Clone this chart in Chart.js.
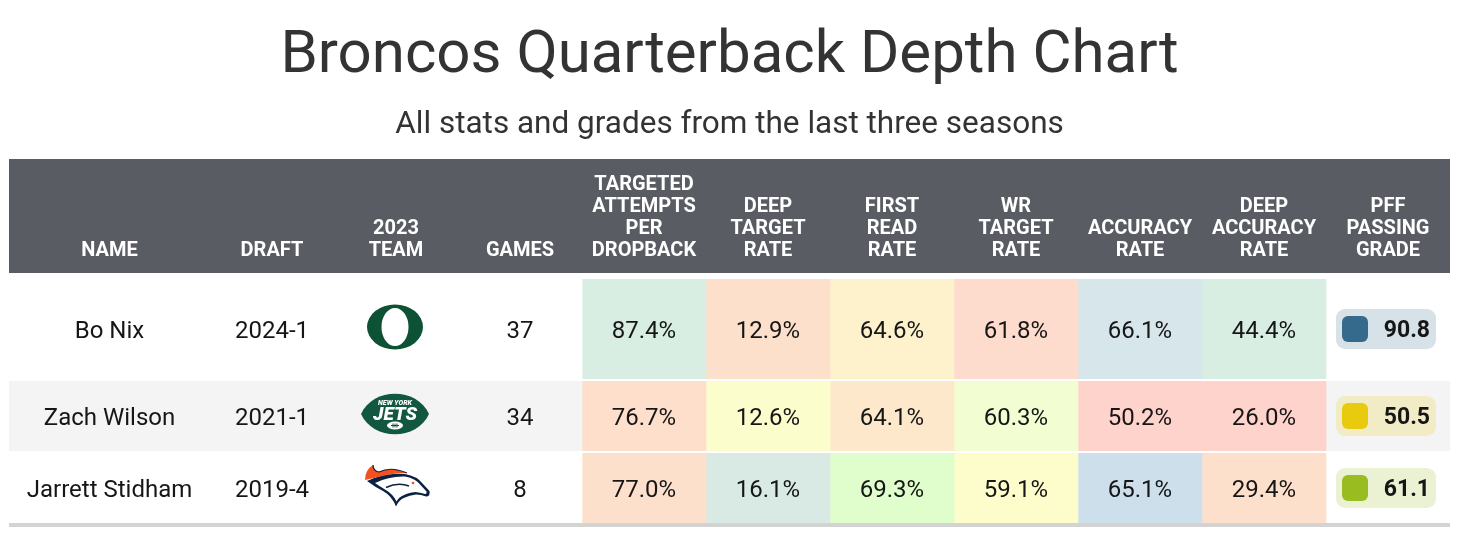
<!DOCTYPE html>
<html>
<head>
<meta charset="utf-8">
<script src="https://cdn.jsdelivr.net/npm/chart.js@4.4.1/dist/chart.umd.min.js"></script>
<style>
  html, body { margin: 0; padding: 0; background: #fff; }
  #page { width: 1460px; height: 534px; overflow: hidden; }
  .box { position: relative; width: 1460px; }
  #rule { margin-left: 9px; width: 1441px; height: 4px; background: #d3d3d3; }
</style>
</head>
<body>
<div id="page">
  <div class="box" style="height:273px"><canvas id="head"></canvas></div>
  <div class="box" style="height:106px"><canvas id="row0"></canvas></div>
  <div class="box" style="height:72px"><canvas id="row1"></canvas></div>
  <div class="box" style="height:72px"><canvas id="row2"></canvas></div>
  <div id="rule"></div>
</div>
<script>
// data
const players = ['Bo Nix', 'Zach Wilson', 'Jarrett Stidham'];
const draft = ['2024-1', '2021-1', '2019-4'];
const team2023 = ['Oregon', 'Jets', 'Broncos'];
const games = [37, 34, 8];
const targetedAttemptsPerDropback = [87.4, 76.7, 77.0];
const deepTargetRate = [12.9, 12.6, 16.1];
const firstReadRate = [64.6, 64.1, 69.3];
const wrTargetRate = [61.8, 60.3, 59.1];
const accuracyRate = [66.1, 50.2, 65.1];
const deepAccuracyRate = [44.4, 26.0, 29.4];
const passingGrade = [90.8, 50.5, 61.1];

const headerLabels = [
  ['NAME'], ['DRAFT'], ['2023', 'TEAM'], ['GAMES'],
  ['TARGETED', 'ATTEMPTS', 'PER', 'DROPBACK'],
  ['DEEP', 'TARGET', 'RATE'], ['FIRST', 'READ', 'RATE'], ['WR', 'TARGET', 'RATE'],
  ['ACCURACY', 'RATE'], ['DEEP', 'ACCURACY', 'RATE'], ['PFF', 'PASSING', 'GRADE'],
];
const statColumns = [targetedAttemptsPerDropback, deepTargetRate, firstReadRate,
  wrTargetRate, accuracyRate, deepAccuracyRate];

// layout and styles
const colWidths = [201, 124, 124, 124, 124, 124, 124, 124, 124, 124, 124];
const totalWidth = colWidths.reduce((a, b) => a + b, 0);
const headerBg = '#595c63';
const rowBg = ['#ffffff', '#f4f4f4', '#ffffff'];
const heatColors = [
  ['#d9eee3', '#fde0cb', '#fdf2cc', '#fddccd', '#d6e6ea', '#d9eee3'],
  ['#fddfcb', '#fcfdcc', '#fde8cb', '#f2fdd1', '#fdd3cc', '#fdd3cc'],
  ['#fde0cb', '#d8eae3', '#e0fdcc', '#fdfdcc', '#cddfeb', '#fde0cb'],
];
const gradeColors = ['#356a8d', '#e8cb0e', '#99bd21'];
const textColor = '#161616';

Chart.defaults.font.family = 'Roboto, "Noto Sans", sans-serif';

function baseOptions(padTop) {
  return {
    indexAxis: 'y',
    responsive: true,
    maintainAspectRatio: false,
    animation: false,
    events: [],
    layout: { padding: { left: 9, right: 10, top: padTop, bottom: 0 } },
    scales: {
      x: { stacked: true, display: false, min: 0, max: totalWidth },
      y: { stacked: true, display: false },
    },
    plugins: {
      legend: { display: false },
      tooltip: { enabled: false },
    },
  };
}

function columnDatasets(colorFor) {
  return colWidths.map((w, c) => ({
    label: headerLabels[c].join(' '),
    data: [w],
    backgroundColor: colorFor(c),
    borderWidth: 0,
    barPercentage: 1,
    categoryPercentage: 1,
  }));
}

function cellBox(chart, c) {
  const el = chart.getDatasetMeta(c).data[0];
  const p = el.getProps(['x', 'base', 'y', 'height'], true);
  return { left: Math.min(p.x, p.base), right: Math.max(p.x, p.base), cy: p.y, h: p.height };
}

// team marks
function drawOregon(ctx, cx, cy) {
  ctx.save();
  ctx.fillStyle = '#0d5235';
  ctx.beginPath();
  ctx.ellipse(cx, cy, 28, 22.5, 0, 0, Math.PI * 2);
  ctx.ellipse(cx, cy, 13.5, 19, 0, 0, Math.PI * 2);
  ctx.fill('evenodd');
  ctx.restore();
}

function drawJets(ctx, cx, cy) {
  ctx.save();
  ctx.translate(cx, cy);
  ctx.fillStyle = '#125740';
  ctx.beginPath();
  ctx.moveTo(-34, 0);
  ctx.bezierCurveTo(-22, -27, 22, -27, 34, 0);
  ctx.bezierCurveTo(22, 27, -22, 27, -34, 0);
  ctx.closePath();
  ctx.fill();
  ctx.fillStyle = '#ffffff';
  ctx.textAlign = 'center';
  ctx.textBaseline = 'middle';
  ctx.font = 'italic 900 7px Roboto';
  ctx.fillText('NEW YORK', 0, -11);
  ctx.font = 'italic 900 19px Roboto';
  ctx.fillText('JETS', 0, 1);
  ctx.beginPath();
  ctx.ellipse(0, 11.5, 8, 4, 0, 0, Math.PI * 2);
  ctx.fill();
  ctx.strokeStyle = '#125740';
  ctx.lineWidth = 1;
  ctx.beginPath();
  ctx.moveTo(-4, 11.5); ctx.lineTo(4, 11.5);
  ctx.moveTo(-2, 9.5); ctx.lineTo(-2, 13.5);
  ctx.moveTo(0, 9.5); ctx.lineTo(0, 13.5);
  ctx.moveTo(2, 9.5); ctx.lineTo(2, 13.5);
  ctx.stroke();
  ctx.restore();
}

function drawBroncos(ctx, cx, cy) {
  const navy = '#0b2242', orange = '#f4511e';
  ctx.save();
  ctx.translate(cx, cy);
  // navy head outline
  ctx.fillStyle = navy;
  ctx.beginPath();
  ctx.moveTo(-28, -5);
  ctx.quadraticCurveTo(-10, -14, 10, -12);
  ctx.quadraticCurveTo(22, -10, 28, -2);
  ctx.lineTo(34.5, 5);
  ctx.quadraticCurveTo(35.5, 10.5, 31, 10.5);
  ctx.quadraticCurveTo(26, 8.5, 21, 8.5);
  ctx.quadraticCurveTo(14, 9.5, 10, 11.5);
  ctx.quadraticCurveTo(4, 13.5, 1, 20.5);
  ctx.quadraticCurveTo(-3, 10, -12, 5);
  ctx.quadraticCurveTo(-20, 1, -28, -5);
  ctx.closePath();
  ctx.fill();
  // white face
  ctx.fillStyle = '#ffffff';
  ctx.beginPath();
  ctx.moveTo(-20, -3);
  ctx.quadraticCurveTo(-6, -10, 10, -9.5);
  ctx.quadraticCurveTo(21, -7.5, 26, -0.5);
  ctx.lineTo(31.5, 5.5);
  ctx.quadraticCurveTo(32, 8, 30, 8);
  ctx.quadraticCurveTo(25, 6.5, 20.5, 6);
  ctx.quadraticCurveTo(13, 6.5, 8, 9.5);
  ctx.quadraticCurveTo(4, 11, 1.5, 15.5);
  ctx.quadraticCurveTo(-2, 8, -10, 3.5);
  ctx.quadraticCurveTo(-15, 0.5, -20, -3);
  ctx.closePath();
  ctx.fill();
  // cheek line
  ctx.strokeStyle = navy;
  ctx.lineWidth = 1.5;
  ctx.beginPath();
  ctx.moveTo(-9, 1.5);
  ctx.quadraticCurveTo(3, -4, 14, 0);
  ctx.stroke();
  // orange mane
  ctx.fillStyle = orange;
  ctx.beginPath();
  ctx.moveTo(-30, -6);
  ctx.quadraticCurveTo(-30, -16, -22, -21);
  ctx.quadraticCurveTo(-22, -15, -16, -14);
  ctx.quadraticCurveTo(-4, -20, 12, -13);
  ctx.quadraticCurveTo(-2, -13, -10, -10.5);
  ctx.quadraticCurveTo(-22, -8, -30, -6);
  ctx.closePath();
  ctx.fill();
  ctx.strokeStyle = navy;
  ctx.lineWidth = 1.2;
  ctx.beginPath();
  ctx.moveTo(-22, -21);
  ctx.quadraticCurveTo(-22, -15, -16, -14);
  ctx.quadraticCurveTo(-4, -20, 12, -13);
  ctx.stroke();
  // eye
  ctx.fillStyle = orange;
  ctx.beginPath();
  ctx.arc(18, -3, 1.3, 0, Math.PI * 2);
  ctx.fill();
  ctx.restore();
}

const logos = { Oregon: drawOregon, Jets: drawJets, Broncos: drawBroncos };

function cellContent(r, c) {
  if (c === 0) return { text: players[r] };
  if (c === 1) return { text: draft[r] };
  if (c === 2) return { logo: team2023[r] };
  if (c === 3) return { text: String(games[r]) };
  if (c < 10) return { text: statColumns[c - 4][r].toFixed(1) + '%' };
  return { grade: passingGrade[r] };
}

const headerText = {
  id: 'headerText',
  afterDatasetsDraw(chart) {
    const ctx = chart.ctx;
    ctx.save();
    ctx.fillStyle = '#ffffff';
    ctx.font = 'bold 20px Roboto';
    ctx.textAlign = 'center';
    ctx.textBaseline = 'alphabetic';
    const lastBase = chart.chartArea.bottom - 17;
    headerLabels.forEach((lines, c) => {
      const b = cellBox(chart, c);
      const cx = (b.left + b.right) / 2;
      lines.forEach((line, i) => {
        ctx.fillText(line, cx, lastBase - (lines.length - 1 - i) * 22);
      });
    });
    ctx.restore();
  },
};

const cellText = {
  id: 'cellText',
  afterDatasetsDraw(chart, args, opts) {
    const ctx = chart.ctx;
    const r = opts.row;
    ctx.save();
    colWidths.forEach((w, c) => {
      const b = cellBox(chart, c);
      const cx = (b.left + b.right) / 2;
      const item = cellContent(r, c);
      if (item.text !== undefined) {
        ctx.fillStyle = textColor;
        ctx.font = '24px Roboto';
        ctx.textAlign = 'center';
        ctx.textBaseline = 'middle';
        ctx.fillText(item.text, cx, b.cy + 2.5);
      } else if (item.logo) {
        logos[item.logo](ctx, cx - 1, b.cy - 2);
      } else if (item.grade !== undefined) {
        const px = b.left + 10, pw = 100, ph = 40, py = b.cy - ph / 2;
        ctx.fillStyle = gradeColors[r];
        ctx.globalAlpha = 0.2;
        ctx.beginPath();
        ctx.roundRect(px, py, pw, ph, 9);
        ctx.fill();
        ctx.globalAlpha = 1;
        ctx.beginPath();
        ctx.roundRect(px + 6, b.cy - 13, 26, 26, 6);
        ctx.fill();
        ctx.fillStyle = textColor;
        ctx.font = 'bold 23px Roboto';
        ctx.textAlign = 'right';
        ctx.textBaseline = 'middle';
        ctx.fillText(item.grade.toFixed(1), px + pw - 6, b.cy + 2);
      }
    });
    ctx.restore();
  },
};

// header: title, subtitle and column labels
const headOpts = baseOptions(0);
headOpts.plugins.title = {
  display: true,
  text: 'Broncos Quarterback Depth Chart',
  color: '#333333',
  font: { size: 60, weight: 'normal' },
  padding: { top: 21, bottom: 0 },
};
headOpts.plugins.subtitle = {
  display: true,
  text: 'All stats and grades from the last three seasons',
  color: '#333333',
  font: { size: 31.5, weight: 'normal' },
  padding: { top: 13.5, bottom: 14.7 },
};
new Chart(document.getElementById('head'), {
  type: 'bar',
  data: { labels: ['header'], datasets: columnDatasets(() => headerBg) },
  options: headOpts,
  plugins: [headerText],
});

// one chart per table row (the first row is taller)
const rowPadTop = [6, 2, 2];
players.forEach((name, r) => {
  const opts = baseOptions(rowPadTop[r]);
  opts.plugins.cellText = { row: r };
  new Chart(document.getElementById('row' + r), {
    type: 'bar',
    data: {
      labels: [name],
      datasets: columnDatasets(c => (c >= 4 && c < 10) ? heatColors[r][c - 4] : rowBg[r]),
    },
    options: opts,
    plugins: [cellText],
  });
});
</script>
</body>
</html>
